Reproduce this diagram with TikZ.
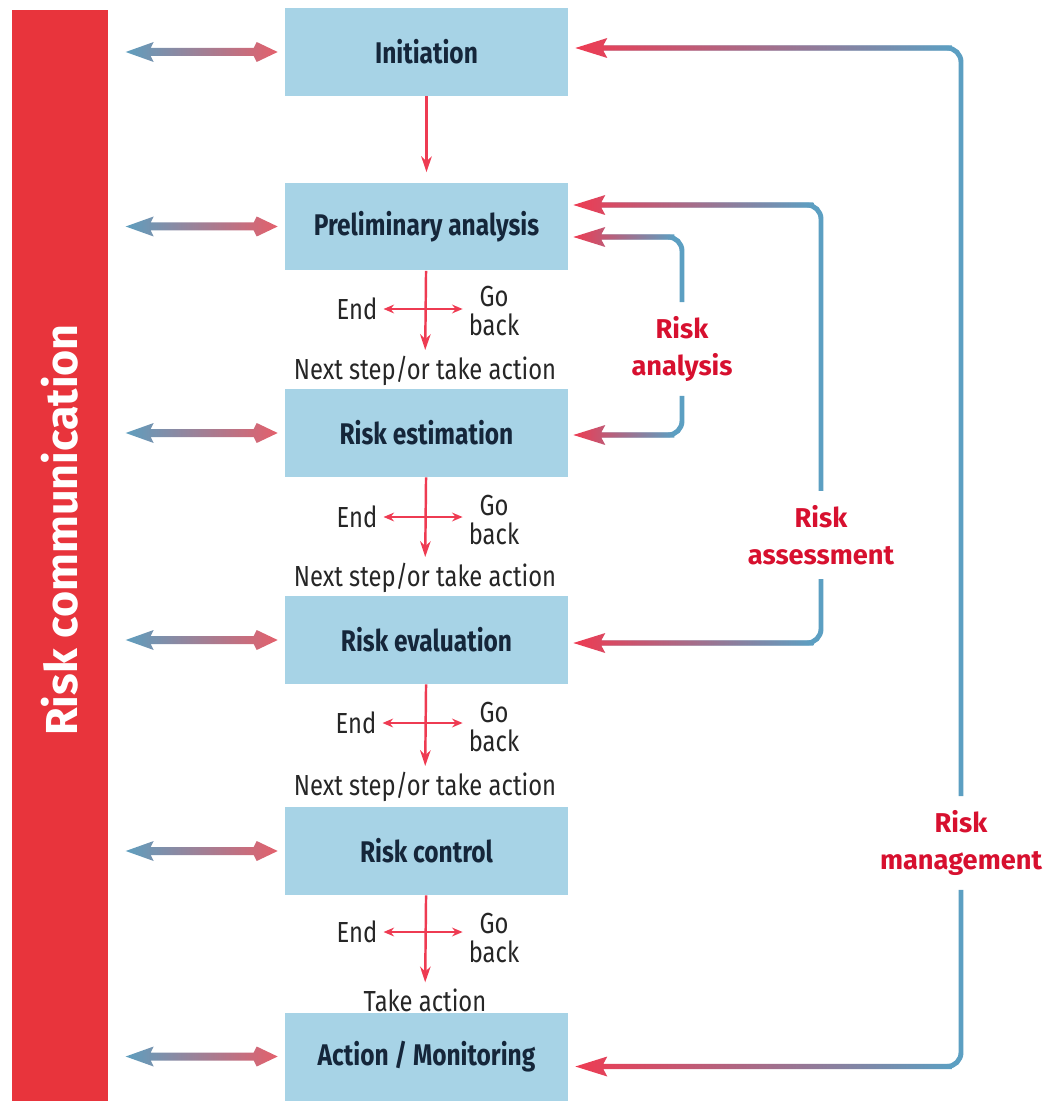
\documentclass[tikz,border=0pt]{standalone}
\usepackage{fontspec}
\setmainfont[FakeStretch=0.82]{Fira Sans}
\newfontfamily\barfont{Fira Sans}
\usepackage{tikz}
\usepackage{xcolor}
\usetikzlibrary{arrows.meta,calc}

\definecolor{barred}{HTML}{E8343C}
\definecolor{boxblue}{HTML}{A7D3E6}
\definecolor{textnavy}{HTML}{15263A}
\definecolor{flowred}{HTML}{EE3B52}
\definecolor{tagred}{HTML}{D7102F}
\definecolor{loopblue}{HTML}{5C9FC2}
\definecolor{commblue}{HTML}{5E9EBE}
\definecolor{commred}{HTML}{E3606C}

\begin{document}
\begin{tikzpicture}[x=0.02cm, y=-0.02cm,
    box/.style={fill=boxblue, text=textnavy, inner sep=0pt, minimum width=5.66cm, minimum height=1.76cm, font=\fontsize{17}{19}\selectfont\bfseries},
    note/.style={text=black!85, font=\fontsize{16.5}{16}\selectfont, align=center},
    tag/.style={text=tagred, inner xsep=2pt, inner ysep=8pt, font=\barfont\fontsize{15.5}{21}\selectfont\bfseries, align=center},
    flow/.style={draw=flowred, line width=1.4pt, -{Stealth[length=9pt, width=6pt]}},
    choice/.style={draw=flowred, line width=1.4pt, {Stealth[length=6pt, width=5pt]}-{Stealth[length=6pt, width=5pt]}},
    loop/.style={draw=loopblue, line width=2.8pt, rounded corners=8pt, shorten >=0.4cm}]
    \useasboundingbox (0,0) rectangle (1042,1101);

    % Risk communication bar
    \node[fill=barred, inner sep=0pt, minimum width=1.92cm, minimum height=21.82cm] (comm) at (60,555.5) {};
    \node[rotate=90, text=white, font=\barfont\fontsize{25.5}{25}\selectfont\bfseries] (commtext) at (60,530) {Risk communication};

    % The steps
    \node[box] (init) at (426.5,52) {Initiation};
    \node[box] (prelim) at (426.5,226.5) {Preliminary analysis};
    \node[box] (estim) at (426.5,433) {Risk estimation};
    \node[box] (evalu) at (426.5,640) {Risk evaluation};
    \node[box] (ctrl) at (426.5,851) {Risk control};
    \node[box] (act) at (426.5,1056.5) {Action / Monitoring};

    % Choices after each step
    \node[note] (end1) at (357,309) {End};
    \node[note] (back1) at (494,311) {Go\\back};
    \node[note] (next1) at (425,371) {Next step/or take action};
    \node[note] (end2) at (357,517) {End};
    \node[note] (back2) at (494,520) {Go\\back};
    \node[note] (next2) at (425,578) {Next step/or take action};
    \node[note] (end3) at (356,723) {End};
    \node[note] (back3) at (494,727) {Go\\back};
    \node[note] (next3) at (425,787) {Next step/or take action};
    \node[note] (end4) at (357,932) {End};
    \node[note] (back4) at (494,938) {Go\\back};
    \node[note] (take) at (425,1000) {Take action};

    % Flow down the steps
    \draw[flow, shorten >=0.2cm] (init) -- (prelim);
    \draw[flow] (prelim) -- (next1);
    \draw[flow] (estim) -- (next2);
    \draw[flow] (evalu) -- (next3);
    \draw[flow] (ctrl) -- (take);
    \draw[choice] (end1) -- (end1 -| back1.west);
    \draw[choice] (end2) -- (end2 -| back2.west);
    \draw[choice] (end3) -- (end3 -| back3.west);
    \draw[choice] (end4) -- (end4 -| back4.west);

    % Two-way arrows to the communication bar
    \foreach \b in {init,prelim,estim,evalu,ctrl,act}
        \shade[shift={(\b.west)}, left color=commblue, right color=commred] (-159,0) -- (-131,-10) -- (-134,-4) -- (-31,-4) -- (-28,-10) -- (-7,0) -- (-28,10) -- (-31,4) -- (-134,4) -- (-131,10) -- cycle;

    % Feedback loops
    \node[tag] (anal) at (682,349) {Risk\\analysis};
    \node[tag] (assess) at (821,535) {Risk\\assessment};
    \node[tag] (mgmt) at (961,843) {Risk\\management};
    \coordinate (an1) at ($(prelim.east)+(5,10.5)$);
    \coordinate (an2) at ($(estim.east)+(5,2)$);
    \coordinate (as1) at ($(prelim.east)+(5,-21.5)$);
    \coordinate (as2) at ($(evalu.east)+(5,3)$);
    \coordinate (mg1) at ($(init.east)+(7,-4)$);
    \coordinate (mg2) at ($(act.east)+(7,10)$);
    \draw[loop] (anal.north) |- (an1);
    \draw[loop] (anal.south) |- (an2);
    \draw[loop] (assess.north) |- (as1);
    \draw[loop] (assess.south) |- (as2);
    \draw[loop] (mgmt.north) |- (mg1);
    \draw[loop] (mgmt.south) |- (mg2);
    \foreach \t/\len in {an1/101,an2/101,as1/240,as2/240,mg1/377,mg2/377}
        \shade[shift={(\t)}, left color=flowred, right color=loopblue] (0,0) -- (32,-10) -- (28,-2.6) -- (\len,-2.6) -- (\len,2.6) -- (28,2.6) -- (32,10) -- cycle;
\end{tikzpicture}
\end{document}
